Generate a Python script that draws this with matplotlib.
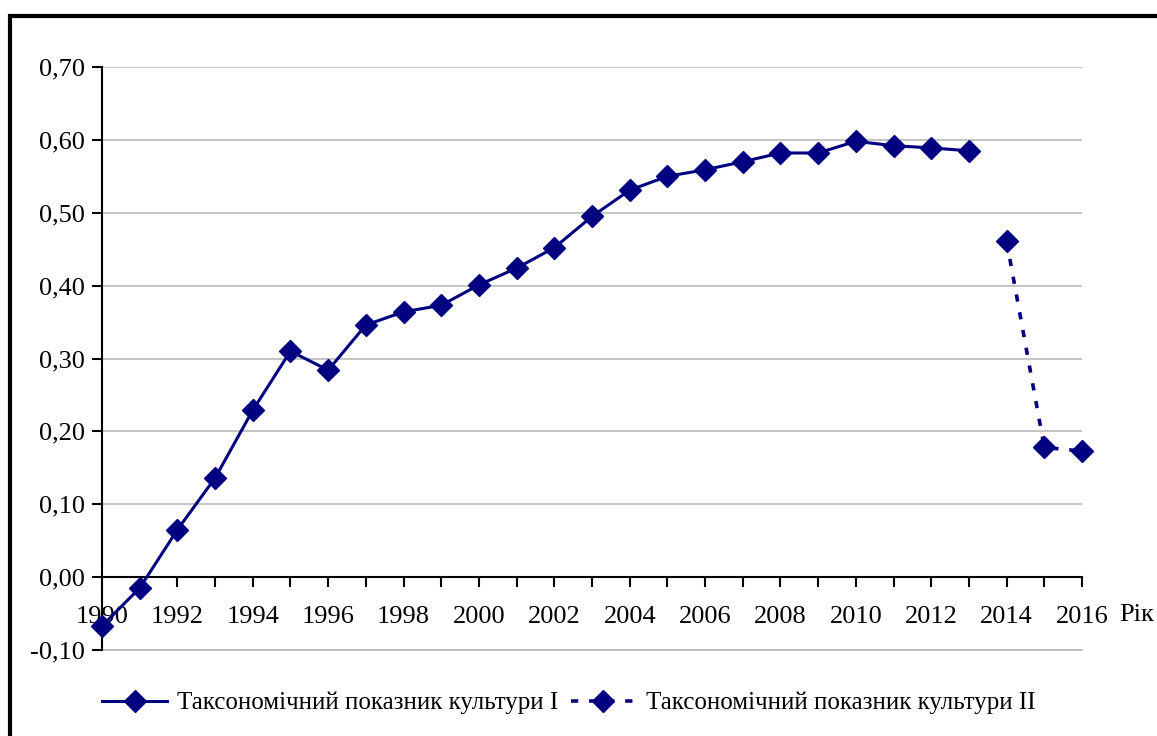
import matplotlib
matplotlib.use("Agg")
import matplotlib.pyplot as plt
import matplotlib.ticker as ticker
from matplotlib.patches import Rectangle

years_1 = [1990, 1991, 1992, 1993, 1994, 1995, 1996, 1997, 1998, 1999, 2000, 2001,
           2002, 2003, 2004, 2005, 2006, 2007, 2008, 2009, 2010, 2011, 2012, 2013]
culture_1 = [-0.067, -0.015, 0.065, 0.136, 0.229, 0.310, 0.284, 0.346, 0.364, 0.373,
             0.401, 0.424, 0.452, 0.495, 0.531, 0.550, 0.559, 0.570, 0.582, 0.582,
             0.598, 0.592, 0.589, 0.585]
years_2 = [2014, 2015, 2016]
culture_2 = [0.461, 0.178, 0.173]

label_1 = "Таксономічний показник культури I"
label_2 = "Таксономічний показник культури II"
x_ticks = list(range(1990, 2017, 2))
y_ticks = [-0.1, 0.0, 0.1, 0.2, 0.3, 0.4, 0.5, 0.6, 0.7]

plt.rcParams["font.family"] = ["Liberation Serif", "DejaVu Serif"]
color = "#000080"
grid_color = "#b4b4b4"

fig = plt.figure(figsize=(11.57, 7.36), dpi=100)
ax = fig.add_axes([102 / 1157, 1 - 650 / 736, 980 / 1157, 583 / 736])

ax.plot(years_1, culture_1, "-", color=color, lw=2.2, marker="D", ms=11,
        label=label_1, zorder=3, clip_on=False)
ax.plot(years_2, culture_2, color=color, lw=2.6, ls=(0, (2, 3)), marker="D", ms=11,
        label=label_2, zorder=3, clip_on=False)

ax.set_xlim(1990, 2016)
ax.set_ylim(-0.1, 0.7)
ax.set_yticks(y_ticks)
ax.set_xticks(x_ticks)
ax.xaxis.set_minor_locator(ticker.MultipleLocator(1))
ax.yaxis.set_major_formatter(ticker.FuncFormatter(lambda v, p: f"{v:.2f}".replace(".", ",")))

ax.yaxis.grid(True, color=grid_color, lw=1.1)
ax.axhline(y_ticks[0], color=grid_color, lw=1.1, clip_on=False, zorder=0.5)
ax.set_axisbelow(True)
ax.spines["top"].set_visible(False)
ax.spines["right"].set_visible(False)
ax.spines["bottom"].set_position(("data", 0))
ax.spines["left"].set_linewidth(1.5)
ax.spines["bottom"].set_linewidth(1.5)
ax.tick_params(axis="y", direction="out", length=7, width=1.5, labelsize=19, pad=5)
ax.tick_params(axis="x", which="both", direction="out", length=7, width=1.5,
               labelsize=19, pad=14)

fig.text(1119 / 1157, 1 - 615 / 736, "Рік", fontsize=19, va="center", ha="left")

ax.legend(loc="center left", bbox_to_anchor=(102 / 1157, 1 - 703 / 736),
          bbox_transform=fig.transFigure, ncol=2, frameon=False, fontsize=18,
          borderpad=0, borderaxespad=0, handlelength=2.6, columnspacing=0.5,
          handletextpad=0.4)

fig.patches.append(Rectangle((9.5 / 1157, -0.1), 1.2, 1 - 15.5 / 736 + 0.1,
                             transform=fig.transFigure, fill=False, lw=3,
                             edgecolor="black"))

fig.savefig("out.png", dpi=100)
